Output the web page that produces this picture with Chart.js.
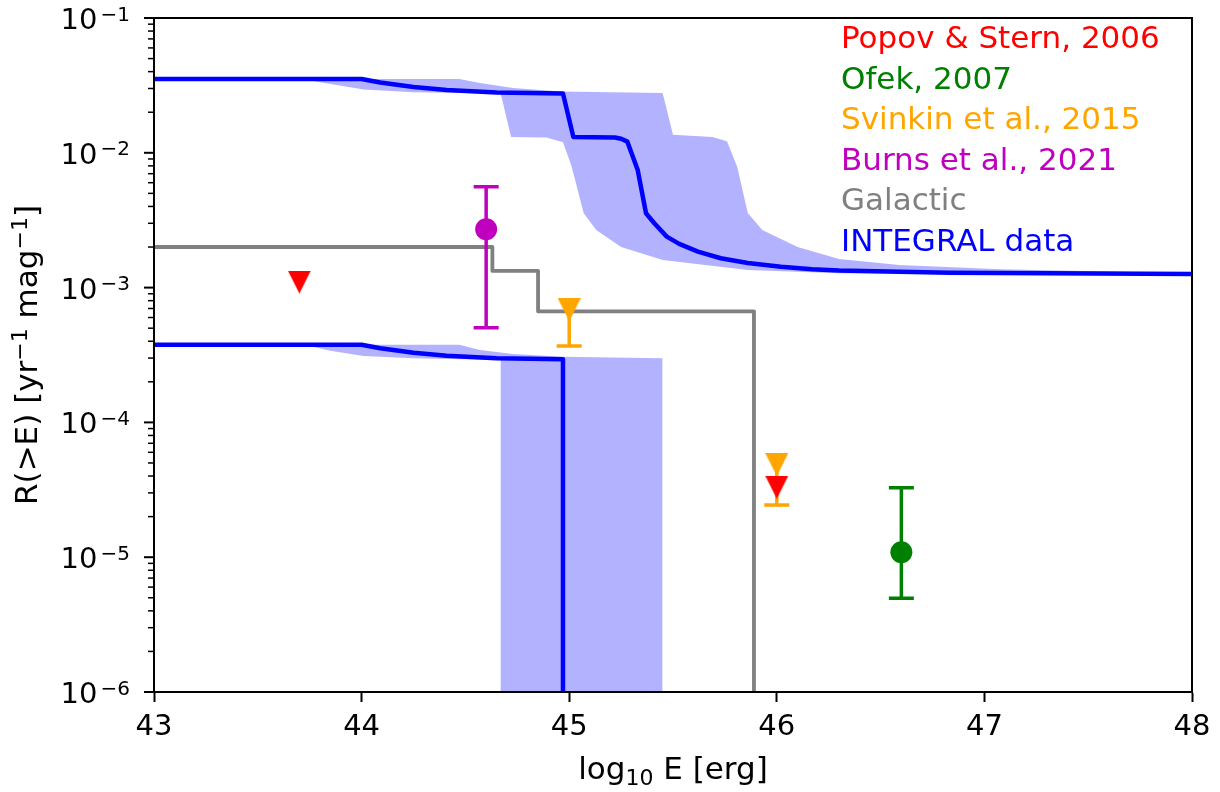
<!DOCTYPE html>
<html>
<head>
<meta charset="utf-8">
<title>R(&gt;E) vs log10 E</title>
<script src="https://cdn.jsdelivr.net/npm/chart.js@4/dist/chart.umd.min.js"></script>
<style>
  html, body { margin: 0; padding: 0; background: #fff; }
  canvas { display: block; }
</style>
</head>
<body>
<canvas id="chart" width="1220" height="792"></canvas>
<script>
// === data ===
// (1e-9 stands in for "dropped to zero", it just runs off the bottom of the log axis)

// INTEGRAL data, upper curve
const INT_HI_E = [43.0, 44.0, 44.09, 44.25, 44.41, 44.65, 44.97, 45.02, 45.22, 45.25, 45.28, 45.33,
                  45.37, 45.41, 45.47, 45.53, 45.62, 45.73, 45.86, 46.02, 46.17, 46.30, 46.83, 48.0];
const INT_HI_R = [0.0353, 0.0353, 0.0332, 0.0308, 0.0292, 0.0280, 0.0275, 0.0131, 0.0130, 0.0127, 0.0121, 0.00745,
                  0.00356, 0.00300, 0.00239, 0.00211, 0.00185, 0.00165, 0.00152, 0.00143, 0.00137, 0.00134, 0.00129, 0.00126];

// INTEGRAL data, lower curve
const INT_LO_E = [43.0, 44.0, 44.09, 44.25, 44.41, 44.65, 44.97, 44.97];
const INT_LO_R = [3.77e-4, 3.77e-4, 3.55e-4, 3.29e-4, 3.12e-4, 2.99e-4, 2.94e-4, 1e-9];

// shaded band round the upper curve
const BAND_HI_TOP_E = [43.0, 44.47, 44.57, 44.73, 44.96, 45.45, 45.50, 45.69, 45.76, 45.81, 45.86, 45.93, 46.10, 46.30, 46.59, 47.08, 48.0];
const BAND_HI_TOP_R = [0.0353, 0.0353, 0.0329, 0.0302, 0.0285, 0.0278, 0.0136, 0.0131, 0.0122, 0.0078, 0.00358, 0.00268, 0.00200, 0.00163, 0.00147, 0.00137, 0.00128];
const BAND_HI_BOT_E = [43.0, 43.71, 43.85, 44.01, 44.25, 44.67, 44.72, 44.89, 44.97, 45.01, 45.07, 45.13, 45.25, 45.45, 45.86, 46.30, 47.08, 48.0];
const BAND_HI_BOT_R = [0.0353, 0.0353, 0.0324, 0.0295, 0.0281, 0.0275, 0.0131, 0.0130, 0.0120, 0.0081, 0.00356, 0.00268, 0.00200, 0.00160, 0.00135, 0.00128, 0.00125, 0.00124];

// shaded band round the lower curve
const BAND_LO_TOP_E = [43.0, 44.47, 44.57, 44.73, 44.97, 45.45, 45.45];
const BAND_LO_TOP_R = [3.77e-4, 3.77e-4, 3.44e-4, 3.22e-4, 3.07e-4, 2.99e-4, 1e-9];
const BAND_LO_BOT_E = [43.0, 43.72, 43.85, 44.01, 44.25, 44.67, 44.67, 45.45];
const BAND_LO_BOT_R = [3.77e-4, 3.77e-4, 3.40e-4, 3.11e-4, 2.99e-4, 2.90e-4, 1e-9, 1e-9];

// Galactic (step)
const GAL_E = [43.0, 44.63, 44.63, 44.85, 44.85, 45.89, 45.89];
const GAL_R = [0.002, 0.002, 0.00133, 0.00133, 0.000667, 0.000667, 1e-9];

// published points
const POPOV_E = [43.7, 46.0];
const POPOV_R = [1.10e-3, 3.3e-5];

const OFEK_E = [46.6];
const OFEK_R = [1.09e-5];
const OFEK_LO = [4.96e-6];
const OFEK_HI = [3.28e-5];

const SVINKIN_E = [45.0, 46.0];
const SVINKIN_R = [6.85e-4, 4.86e-5];
const SVINKIN_LO = [3.69e-4, 2.44e-5];
const SVINKIN_HI = [6.85e-4, 4.86e-5];

const BURNS_E = [44.6];
const BURNS_R = [2.71e-3];
const BURNS_LO = [5.04e-4];
const BURNS_HI = [5.6e-3];

// axes
const X_MIN = 43, X_MAX = 48;
const Y_TICKS = [1e-6, 1e-5, 1e-4, 1e-3, 1e-2, 1e-1];
const Y_TICK_EXP = ['\u22126', '\u22125', '\u22124', '\u22123', '\u22122', '\u22121'];

// axis titles as [text, script] pieces: 0 normal, 1 superscript, -1 subscript
const X_TITLE_PARTS = [['log', 0], ['10', -1], [' E [erg]', 0]];
const Y_TITLE_PARTS = [['R(>E) [yr', 0], ['\u22121', 1], [' mag', 0], ['\u22121', 1], [']', 0]];

// text legend (top right)
const LEGEND_LABELS = ['Popov & Stern, 2006', 'Ofek, 2007', 'Svinkin et al., 2015', 'Burns et al., 2021', 'Galactic', 'INTEGRAL data'];
const LEGEND_COLORS = ['#ff0000', '#008000', '#ffa500', '#bf00bf', '#808080', '#0000ff'];

// === helpers ===
const FONT = '"DejaVu Sans", sans-serif';
const BAND_COLOR = 'rgba(0, 0, 255, 0.3)';

function pts(xs, ys) {
  return xs.map((x, i) => ({ x, y: ys[i] }));
}

// matplotlib-style "v" marker as an image
function downTriangle(color, size) {
  const c = document.createElement('canvas');
  c.width = size;
  c.height = size;
  const g = c.getContext('2d');
  g.fillStyle = color;
  g.beginPath();
  g.moveTo(0, 0);
  g.lineTo(size, 0);
  g.lineTo(size / 2, size);
  g.closePath();
  g.fill();
  return c;
}

function band(xs, ys, fill, order) {
  return { data: pts(xs, ys), borderWidth: 0, pointRadius: 0, backgroundColor: BAND_COLOR, fill, order };
}

function curve(xs, ys, color, width, order) {
  return { data: pts(xs, ys), borderColor: color, borderWidth: width, pointRadius: 0,
           borderJoinStyle: 'round', fill: false, order };
}

// text with sub/superscripts, centred on (0,0), baseline at 0
function drawScripted(ctx, parts, size) {
  const small = Math.round(size * 0.7);
  let total = 0;
  const widths = parts.map(([t, s]) => {
    ctx.font = (s ? small : size) + 'px ' + FONT;
    const w = ctx.measureText(t).width;
    total += w;
    return w;
  });
  let x = -total / 2;
  parts.forEach(([t, s], i) => {
    ctx.font = (s ? small : size) + 'px ' + FONT;
    const dy = s === 1 ? -0.33 * size : s === -1 ? 0.2 * size : 0;
    ctx.fillText(t, x, dy);
    x += widths[i];
  });
}

// error bars drawn right after their own dataset
const errorBars = {
  id: 'errorBars',
  afterDatasetDraw(chart, args) {
    const ds = chart.data.datasets[args.index];
    if (!ds.errLow) return;
    const { ctx, scales: { x, y } } = chart;
    ctx.save();
    ctx.strokeStyle = ds.errColor;
    ctx.lineWidth = 3.5;
    ds.data.forEach((p, i) => {
      const px = x.getPixelForValue(p.x);
      const lo = y.getPixelForValue(ds.errLow[i]);
      const hi = y.getPixelForValue(ds.errHigh[i]);
      ctx.beginPath();
      ctx.moveTo(px, hi);
      ctx.lineTo(px, lo);
      ctx.moveTo(px - 12.5, lo);
      ctx.lineTo(px + 12.5, lo);
      if (ds.errHigh[i] > p.y) {
        ctx.moveTo(px - 12.5, hi);
        ctx.lineTo(px + 12.5, hi);
      }
      ctx.stroke();
    });
    ctx.restore();
  }
};

// frame, log ticks with 10^n labels, axis titles and the coloured text legend
const decor = {
  id: 'decor',
  afterDraw(chart) {
    const { ctx, chartArea: a, scales: { y } } = chart;
    ctx.save();

    ctx.strokeStyle = '#000';
    ctx.lineWidth = 2;
    ctx.strokeRect(a.left, a.top, a.right - a.left, a.bottom - a.top);

    // y ticks: majors at decades, minors at 2..9 x decade
    for (let d = 0; d < Y_TICKS.length; d++) {
      const v = Y_TICKS[d];
      let py = y.getPixelForValue(v);
      ctx.lineWidth = 2;
      ctx.beginPath();
      ctx.moveTo(a.left - 10, py);
      ctx.lineTo(a.left, py);
      ctx.stroke();
      if (d === Y_TICKS.length - 1) continue;
      ctx.lineWidth = 1.5;
      for (let k = 2; k <= 9; k++) {
        py = y.getPixelForValue(v * k);
        ctx.beginPath();
        ctx.moveTo(a.left - 6, py);
        ctx.lineTo(a.left, py);
        ctx.stroke();
      }
    }

    // y tick labels
    ctx.fillStyle = '#000';
    ctx.textAlign = 'left';
    ctx.textBaseline = 'alphabetic';
    const right = a.left - 24;
    Y_TICKS.forEach((v, i) => {
      const py = y.getPixelForValue(v);
      ctx.font = '29px ' + FONT;
      const wBase = ctx.measureText('10').width;
      ctx.font = '20px ' + FONT;
      const wExp = ctx.measureText(Y_TICK_EXP[i]).width;
      const x0 = right - wBase - 3 - wExp;
      ctx.font = '29px ' + FONT;
      ctx.fillText('10', x0, py + 11);
      ctx.font = '20px ' + FONT;
      ctx.fillText(Y_TICK_EXP[i], x0 + wBase + 3, py + 2.5);
    });

    // axis titles
    ctx.save();
    ctx.translate((a.left + a.right) / 2, 779);
    drawScripted(ctx, X_TITLE_PARTS, 31);
    ctx.restore();
    ctx.save();
    ctx.translate(37, (a.top + a.bottom) / 2);
    ctx.rotate(-Math.PI / 2);
    drawScripted(ctx, Y_TITLE_PARTS, 31);
    ctx.restore();

    // legend
    ctx.font = '31px ' + FONT;
    LEGEND_LABELS.forEach((t, i) => {
      ctx.fillStyle = LEGEND_COLORS[i];
      ctx.fillText(t, a.right - 351, a.top + 30 + i * 40.5);
    });

    ctx.restore();
  }
};

Chart.defaults.font.family = FONT;
Chart.defaults.color = '#000';

new Chart(document.getElementById('chart'), {
  type: 'line',
  data: {
    datasets: [
      band(BAND_HI_TOP_E, BAND_HI_TOP_R, '+1', 20),
      band(BAND_HI_BOT_E, BAND_HI_BOT_R, false, 20),
      band(BAND_LO_TOP_E, BAND_LO_TOP_R, '+1', 20),
      band(BAND_LO_BOT_E, BAND_LO_BOT_R, false, 20),
      curve(INT_HI_E, INT_HI_R, '#0000ff', 4.5, 10),
      curve(INT_LO_E, INT_LO_R, '#0000ff', 4.5, 10),
      curve(GAL_E, GAL_R, '#808080', 3.8, 9),
      {
        data: pts(BURNS_E, BURNS_R), showLine: false, pointStyle: 'circle', pointRadius: 11,
        pointBorderWidth: 0, pointBackgroundColor: '#bf00bf', order: 8,
        errLow: BURNS_LO, errHigh: BURNS_HI, errColor: '#bf00bf'
      },
      {
        data: pts(OFEK_E, OFEK_R), showLine: false, pointStyle: 'circle', pointRadius: 11,
        pointBorderWidth: 0, pointBackgroundColor: '#008000', order: 7,
        errLow: OFEK_LO, errHigh: OFEK_HI, errColor: '#008000'
      },
      {
        data: pts(SVINKIN_E, SVINKIN_R), showLine: false, pointStyle: downTriangle('#ffa500', 23), pointRadius: 11,
        order: 6, errLow: SVINKIN_LO, errHigh: SVINKIN_HI, errColor: '#ffa500'
      },
      {
        data: pts(POPOV_E, POPOV_R), showLine: false, pointStyle: downTriangle('#ff0000', 23), pointRadius: 11,
        order: 5
      }
    ]
  },
  options: {
    responsive: false,
    animation: false,
    events: [],
    layout: { padding: { top: 18, right: 28, left: 0, bottom: 0 } },
    plugins: {
      legend: { display: false },
      tooltip: { enabled: false }
    },
    scales: {
      x: {
        type: 'linear',
        min: X_MIN,
        max: X_MAX,
        ticks: { stepSize: 1, font: { size: 29 }, color: '#000', padding: 8 },
        grid: { display: true, drawOnChartArea: false, drawTicks: true, tickLength: 10, tickWidth: 2, tickColor: '#000' },
        border: { display: true, color: '#000', width: 2 },
        title: { display: false },
        afterFit(scale) { scale.height = 100; }
      },
      y: {
        type: 'logarithmic',
        min: 1e-6,
        max: 1e-1,
        ticks: { display: false },
        grid: { display: false },
        border: { display: true, color: '#000', width: 2 },
        title: { display: false },
        afterFit(scale) { scale.width = 154; }
      }
    }
  },
  plugins: [errorBars, decor]
});
</script>
</body>
</html>
